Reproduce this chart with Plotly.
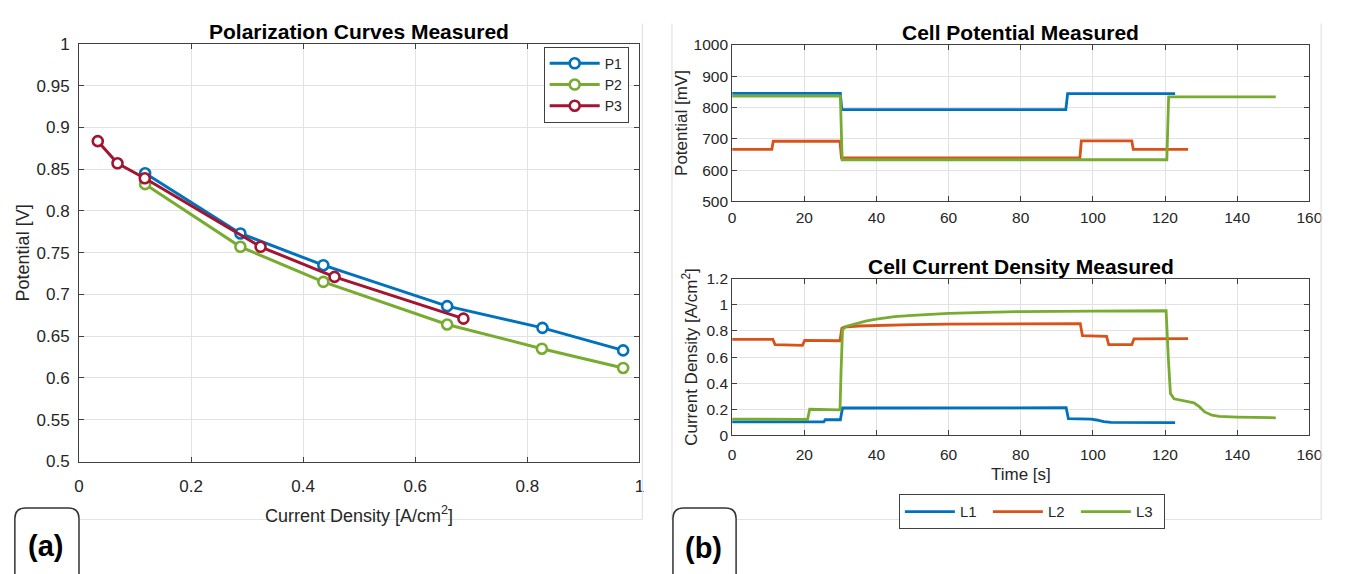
import plotly.graph_objects as go

W, H = 1346, 574

# ---- Polarization curves: current density [A/cm^2] vs potential [V]
p1_j = [0.118, 0.288, 0.436, 0.657, 0.827, 0.971]
p1_v = [0.845, 0.773, 0.735, 0.686, 0.660, 0.633]
p2_j = [0.118, 0.288, 0.436, 0.657, 0.826, 0.971]
p2_v = [0.832, 0.757, 0.715, 0.664, 0.635, 0.612]
p3_j = [0.0335, 0.0687, 0.1174, 0.324, 0.456, 0.686]
p3_v = [0.8835, 0.857, 0.839, 0.757, 0.721, 0.671]

# ---- Cell potential [mV] over time [s]
l1_pot_t = [0, 30.0, 30.4, 92.5, 93.0, 122.8]
l1_pot_v = [845, 845, 793, 793, 844, 844]
l2_pot_t = [0, 11.0, 11.4, 29.9, 30.3, 96.4, 96.8, 110.8, 111.2, 126.4]
l2_pot_v = [666, 666, 692, 692, 639, 639, 693, 693, 666, 666]
l3_pot_t = [0, 30.0, 30.5, 120.5, 121.0, 150.7]
l3_pot_v = [836, 836, 633, 633, 834, 834]

# ---- Cell current density [A/cm^2] over time [s]
l1_cd_t = [0, 25.4, 25.8, 30.0, 30.6, 92.6, 93.2, 99.5, 101, 103, 105, 122.8]
l1_cd_v = [0.103, 0.103, 0.12, 0.12, 0.21, 0.212, 0.128, 0.125, 0.118, 0.105, 0.100, 0.098]
l2_cd_t = [0, 11.3, 11.9, 19.5, 20.1, 29.9, 30.4, 31, 35, 40, 50, 60, 80,
           96.5, 97.1, 103.8, 104.4, 110.8, 111.4, 126.4]
l2_cd_v = [0.735, 0.735, 0.695, 0.69, 0.728, 0.725, 0.82, 0.83, 0.838, 0.842, 0.848,
           0.852, 0.855, 0.857, 0.765, 0.758, 0.695, 0.695, 0.74, 0.742]
l3_cd_t = [0, 20.9, 21.5, 29.9, 30.2, 30.6, 31.5, 33.5, 37, 40, 45, 50, 60, 70, 80,
           100, 120.3, 120.9, 121.5, 122.5, 125, 128, 129.5, 131, 133, 135, 140, 150.7]
l3_cd_v = [0.125, 0.122, 0.2, 0.195, 0.5, 0.81, 0.835, 0.85, 0.875, 0.89, 0.91, 0.92,
           0.935, 0.943, 0.948, 0.952, 0.955, 0.6, 0.32, 0.28, 0.265, 0.25, 0.22, 0.18,
           0.155, 0.145, 0.14, 0.135]

# ---- tick labels
pol_x_ticks = [0, 0.2, 0.4, 0.6, 0.8, 1.0]
pol_x_text = ["0", "0.2", "0.4", "0.6", "0.8", "1"]
pol_y_ticks = [0.5, 0.55, 0.6, 0.65, 0.7, 0.75, 0.8, 0.85, 0.9, 0.95, 1.0]
pol_y_text = ["0.5", "0.55", "0.6", "0.65", "0.7", "0.75", "0.8", "0.85", "0.9", "0.95", "1"]
time_ticks = [0, 20, 40, 60, 80, 100, 120, 140, 160]
pot_ticks = [500, 600, 700, 800, 900, 1000]
cd_ticks = [0, 0.2, 0.4, 0.6, 0.8, 1.0, 1.2]
cd_text = ["0", "0.2", "0.4", "0.6", "0.8", "1", "1.2"]

BLUE, GREEN, RED, ORANGE = "#0072BD", "#77AC30", "#A2142F", "#D95319"
FONT = "Liberation Sans, Arial, Helvetica, sans-serif"
AX = "#404040"
TXT = "#262626"


def px(x):
    return x / W


def py(y):
    return 1 - y / H


fig = go.Figure()

for name, xs, ys, col in [("P1", p1_j, p1_v, BLUE), ("P2", p2_j, p2_v, GREEN),
                          ("P3", p3_j, p3_v, RED)]:
    fig.add_trace(go.Scatter(
        x=xs, y=ys, name=name, mode="lines+markers", xaxis="x", yaxis="y",
        line=dict(color=col, width=3),
        marker=dict(symbol="circle", size=10, color="white", line=dict(color=col, width=2.6)),
        legend="legend"))

for name, xs, ys, col in [("L1", l1_pot_t, l1_pot_v, BLUE), ("L2", l2_pot_t, l2_pot_v, ORANGE),
                          ("L3", l3_pot_t, l3_pot_v, GREEN)]:
    fig.add_trace(go.Scatter(
        x=xs, y=ys, name=name, mode="lines", xaxis="x2", yaxis="y2",
        line=dict(color=col, width=2.8), legend="legend2"))

for name, xs, ys, col in [("L1", l1_cd_t, l1_cd_v, BLUE), ("L2", l2_cd_t, l2_cd_v, ORANGE),
                          ("L3", l3_cd_t, l3_cd_v, GREEN)]:
    fig.add_trace(go.Scatter(
        x=xs, y=ys, name=name, mode="lines", xaxis="x3", yaxis="y3",
        line=dict(color=col, width=2.8), showlegend=False))


def axis(dom, rng, tickvals, ticktext, size, anchor, standoff=0):
    return dict(domain=dom, range=rng, tickvals=tickvals, ticktext=ticktext,
                showline=True, linecolor=AX, linewidth=1, mirror="ticks",
                ticks="inside", ticklen=5, tickcolor=AX, tickwidth=1,
                showgrid=True, gridcolor="#e2e2e2", gridwidth=1, zeroline=False,
                tickfont=dict(family=FONT, size=size, color=TXT), anchor=anchor,
                ticklabelstandoff=standoff, fixedrange=True)


fig.update_layout(
    width=W, height=H, margin=dict(l=0, r=0, t=0, b=0),
    paper_bgcolor="white", plot_bgcolor="white",
    font=dict(family=FONT, color=TXT),
    xaxis=axis([px(75), px(643)], [0, 1], pol_x_ticks, pol_x_text, 17, "y", 9),
    yaxis=axis([py(468), py(36)], [0.5, 1], pol_y_ticks, pol_y_text, 17, "x", 5),
    xaxis2=axis([px(737), px(1322)], [0, 160], time_ticks, [str(t) for t in time_ticks], 15.5, "y2", 2),
    yaxis2=axis([py(199), py(37)], [500, 1000], pot_ticks, [str(t) for t in pot_ticks], 15.5, "x2"),
    xaxis3=axis([px(737), px(1322)], [0, 160], time_ticks, [str(t) for t in time_ticks], 15.5, "y3", 5),
    yaxis3=axis([py(441), py(279)], [0, 1.2], cd_ticks, cd_text, 15.5, "x3"),
    legend=dict(x=px(546), y=py(39), xanchor="left", yanchor="top",
                bgcolor="white", bordercolor=AX, borderwidth=1,
                font=dict(family=FONT, size=14, color=TXT), itemwidth=50,
                tracegroupgap=0),
    legend2=dict(orientation="h", x=px(906), y=py(502), xanchor="left", yanchor="top",
                 bgcolor="white", bordercolor=AX, borderwidth=1,
                 font=dict(family=FONT, size=15, color=TXT), itemwidth=50,
                 entrywidth=23, entrywidthmode="pixels"),
    showlegend=True,
)

ann = []


def text(x, y, s, size, bold=False, angle=0, color="black"):
    ann.append(dict(x=px(x), y=py(y), xref="paper", yref="paper", text=f"<b>{s}</b>" if bold else s,
                    showarrow=False, xanchor="center", yanchor="middle", textangle=angle,
                    font=dict(family=FONT, size=size, color=color)))


text(359, 23, "Polarization Curves Measured", 21, bold=True)
text(1029.5, 24, "Cell Potential Measured", 21, bold=True)
text(1029.5, 266, "Cell Current Density Measured", 21, bold=True)
text(359, 523, "Current Density [A/cm<sup>2</sup>]", 18, color=TXT)
text(18, 252, "Potential [V]", 18, angle=-90, color=TXT)
text(685, 118, "Potential [mV]", 17, angle=-90, color=TXT)
text(694, 360, "Current Density [A/cm<sup>2</sup>]", 17, angle=-90, color=TXT)
text(1030, 481, "Time [s]", 17, color=TXT)
text(41.5, 555, "(a)", 29, bold=True)
text(708, 557, "(b)", 29, bold=True)
fig.update_layout(annotations=ann)

shapes = []
GREY = "#e3e3e3"


def seg(x0, y0, x1, y1):
    shapes.append(dict(type="line", xref="paper", yref="paper", x0=px(x0), y0=py(y0),
                       x1=px(x1), y1=py(y1), line=dict(color=GREY, width=1.2)))


# panel frames
seg(646, 15, 646, 528)
seg(10, 528, 646, 528)
seg(676, 15, 676, 528)
seg(1334, 15, 1334, 528)
seg(676, 528, 1334, 528)


def label_box(x0, x1, ytop, r=11, ybot=590):
    path = (f"M {px(x0)},{py(ybot)} L {px(x0)},{py(ytop + r)} "
            f"Q {px(x0)},{py(ytop)} {px(x0 + r)},{py(ytop)} "
            f"L {px(x1 - r)},{py(ytop)} Q {px(x1)},{py(ytop)} {px(x1)},{py(ytop + r)} "
            f"L {px(x1)},{py(ybot)} Z")
    shapes.append(dict(type="path", xref="paper", yref="paper", path=path,
                       fillcolor="white", line=dict(color="#333333", width=1.5)))


label_box(10, 75, 516)
label_box(677, 741, 516)
fig.update_layout(shapes=shapes)

fig.write_html("out.html")
